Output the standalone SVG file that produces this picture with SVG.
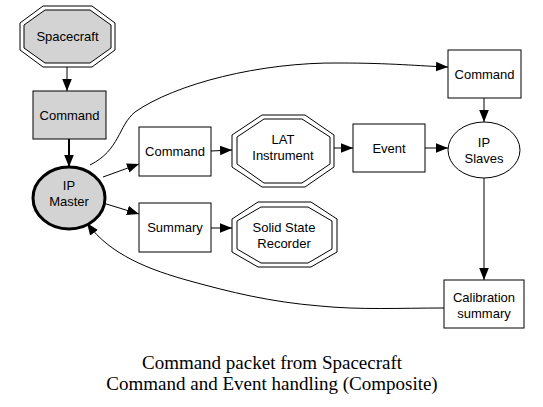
<svg xmlns="http://www.w3.org/2000/svg" width="543" height="407" viewBox="0 0 543 407">
<style>
.n{fill:#fff;stroke:#000;stroke-width:1}
.g{fill:#d3d3d3;stroke:#000;stroke-width:1}
.o{fill:none;stroke:#000;stroke-width:1}
.t{font-family:"Liberation Sans",Arial,sans-serif;font-size:13px;text-anchor:middle;fill:#000}
.c{font-family:"Liberation Serif","Times New Roman",serif;font-size:19px;text-anchor:middle;fill:#000}
.e{fill:none;stroke:#000;stroke-width:1;marker-end:url(#ah)}
</style>
<defs>
<marker id="ah" markerUnits="userSpaceOnUse" markerWidth="12" markerHeight="10" viewBox="0 0 10 8" refX="10" refY="4" orient="auto">
<path d="M0,0 L10,4 L0,8 Z" fill="#000"/>
</marker>
</defs>
<rect width="543" height="407" fill="#fff"/>
<g id="edges">
<path class="e" d="M67,67 L67,91"/>
<path class="e" d="M69,139 L69,167" style="stroke-width:2"/>
<path class="e" d="M103,177 L139,164"/>
<path class="e" d="M103,203 L139,214"/>
<path class="e" d="M90,165 C120,150 118,126 135,112 C175,84 260,62 340,63 C390,63 420,66 448,67"/>
<path class="e" d="M211,151 L232,150"/>
<path class="e" d="M334,148 L353,148"/>
<path class="e" d="M425,148 L448,148"/>
<path class="e" d="M484,98 L484,122"/>
<path class="e" d="M484,178 L484,280"/>
<path class="e" d="M211,228 L232,228"/>
<path class="e" d="M444,308 C400,308 360,310 320,306 C270,302 230,292 190,281 C150,270 110,255 87,223"/>
</g>
<g id="spacecraft">
<polygon class="o" points="43,6 92,6 115,23 115,50 92,67 43,67 20,50 20,23"/>
<polygon class="g" points="45,10 90,10 111,25 111,48 90,63 45,63 24,48 24,25"/>
<text class="t" x="67.5" y="41">Spacecraft</text>
</g>
<g id="command1">
<rect class="g" x="33" y="91" width="73" height="48"/>
<text class="t" x="69.5" y="120">Command</text>
</g>
<g id="ipmaster">
<ellipse cx="69" cy="198" rx="36" ry="31" fill="#d3d3d3" stroke="#000" stroke-width="3"/>
<text class="t" x="69" y="190">IP</text>
<text class="t" x="69" y="206">Master</text>
</g>
<g id="command2">
<rect class="n" x="139" y="127" width="72" height="49"/>
<text class="t" x="175" y="156">Command</text>
</g>
<g id="summary">
<rect class="n" x="139" y="203" width="72" height="49"/>
<text class="t" x="175" y="232">Summary</text>
</g>
<g id="lat">
<polygon class="o" points="262,115 305,115 334,135 334,167 305,187 262,187 232,167 232,135"/>
<polygon class="o" points="264,119 302,119 330,137 330,164 302,183 264,183 237,164 237,137"/>
<text class="t" x="283" y="144">LAT</text>
<text class="t" x="283" y="160">Instrument</text>
</g>
<g id="ssr">
<polygon class="o" points="258,202 311,202 337,219 337,252 311,267 258,267 232,252 232,219"/>
<polygon class="o" points="261,207 308,207 332,221 332,249 308,263 261,263 237,249 237,221"/>
<text class="t" x="284" y="232">Solid State</text>
<text class="t" x="284" y="248">Recorder</text>
</g>
<g id="event">
<rect class="n" x="353" y="124" width="72" height="48"/>
<text class="t" x="389" y="153">Event</text>
</g>
<g id="command3">
<rect class="n" x="448" y="50" width="73" height="48"/>
<text class="t" x="484.5" y="79">Command</text>
</g>
<g id="ipslaves">
<ellipse class="n" cx="484" cy="150" rx="36" ry="28"/>
<text class="t" x="484" y="147">IP</text>
<text class="t" x="484" y="163">Slaves</text>
</g>
<g id="calibration">
<rect class="n" x="444" y="280" width="80" height="48"/>
<text class="t" x="484" y="302">Calibration</text>
<text class="t" x="484" y="318">summary</text>
</g>
<g id="caption">
<text class="c" x="272" y="369">Command packet from Spacecraft</text>
<text class="c" x="272" y="390">Command and Event handling (Composite)</text>
</g>
</svg>
